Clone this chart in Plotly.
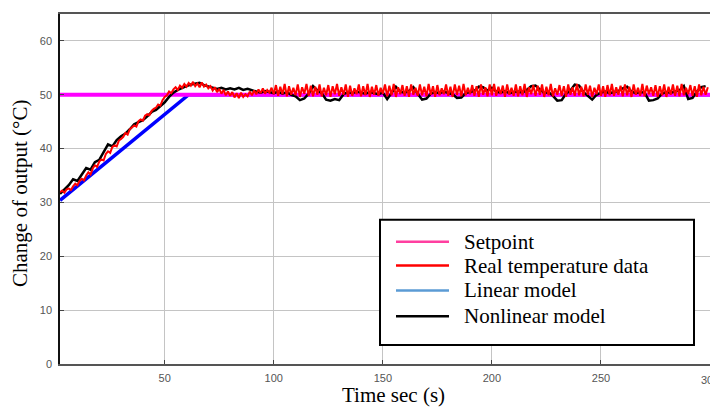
import plotly.graph_objects as go

# ---------------- data ----------------
time_real = list(range(2, 300))          # 1 s sampling, t = 2..299
real_temp = [
    31.9, 32.2, 31.8, 32.4, 32.6, 32.3, 33.0, 33.5, 33.2,
    34.0, 34.4, 34.1, 35.0, 35.6, 35.2, 36.3, 36.9, 36.6, 37.6,
    38.0, 37.8, 39.0, 39.5, 39.2, 40.3, 40.6, 40.4, 41.5, 41.8,
    42.2, 42.9, 42.6, 43.6, 43.9, 44.3, 44.1, 45.1, 45.4, 45.2,
    46.1, 46.4, 46.2, 47.0, 47.4, 47.6, 48.2, 48.0, 49.0, 49.6,
    49.9, 50.6, 50.3, 51.0, 51.4, 50.9, 51.7, 51.3, 52.0, 51.5,
    52.2, 51.7, 52.4, 51.6, 52.1, 51.4, 52.3, 51.5, 51.9, 51.2,
    51.6, 50.8, 51.4, 50.5, 51.1, 50.2, 50.9, 49.9, 50.6, 49.8,
    50.5, 49.5, 50.3, 49.4, 50.4, 49.6, 50.1, 49.7, 50.6, 49.9,
    50.8, 50.1, 51.0, 50.3, 51.2, 50.2, 50.9, 50.4, 51.3, 50.1,
    51.8, 49.8, 51.5, 50.1, 52.0, 49.7, 51.6, 50.0, 51.3, 49.9,
    51.9, 49.6, 51.4, 50.2, 52.0, 49.8, 51.7, 49.7, 51.5, 50.0,
    51.9, 49.7, 51.3, 49.9, 51.8, 49.6, 51.6, 50.1, 52.0, 49.8,
    51.4, 50.0, 51.9, 49.6, 51.7, 49.8, 51.2, 50.1, 51.9, 49.7,
    51.6, 49.9, 52.0, 49.6, 51.5, 50.0, 51.8, 49.8, 51.3, 50.2,
    51.9, 49.7, 51.7, 49.9, 52.0, 49.6, 51.4, 50.1, 51.8, 49.8,
    51.6, 49.6, 51.9, 50.0, 51.3, 49.8, 51.9, 49.9, 51.5, 49.7,
    52.0, 50.0, 51.6, 49.6, 51.8, 49.9, 51.2, 50.1, 51.9, 49.8,
    51.5, 49.6, 51.9, 50.0, 51.7, 49.7, 52.0, 49.9, 51.3, 50.1,
    51.8, 49.8, 51.6, 49.6, 51.9, 50.0, 51.4, 49.7, 51.9, 49.9,
    52.0, 49.8, 51.5, 50.1, 51.7, 49.6, 51.9, 50.0, 51.3, 49.8,
    51.9, 49.7, 51.6, 49.9, 52.0, 49.6, 51.4, 50.1, 51.8, 49.8,
    51.7, 50.0, 51.9, 49.6, 51.5, 49.9, 52.0, 49.7, 51.2, 50.0,
    51.8, 49.8, 51.6, 49.6, 51.9, 50.0, 51.4, 49.8, 52.0, 49.9,
    51.5, 49.7, 51.9, 50.0, 51.7, 49.6, 51.3, 50.1, 51.9, 49.8,
    51.6, 49.6, 51.8, 49.9, 52.0, 49.8, 51.4, 50.0, 51.7, 49.7,
    51.9, 49.9, 51.5, 49.6, 51.9, 50.0, 51.3, 49.8, 52.0, 49.7,
    51.7, 50.1, 51.4, 49.8, 51.8, 49.6, 51.6, 49.9, 51.9, 49.6,
    51.5, 50.0, 51.9, 49.8, 51.7, 49.7, 52.0, 49.9, 51.3, 50.1,
    51.8, 49.8, 51.6, 49.6, 51.9, 49.9, 51.5, 50.0, 51.4,
]

time_nonlin = list(range(2, 300, 2))     # 2 s sampling, t = 2..298
nonlinear_model = [
    31.6, 32.4, 33.2, 34.3, 34.0,
    35.2, 36.4, 36.1, 37.5, 37.9,
    39.4, 40.8, 40.4, 41.6, 42.3,
    42.8, 43.6, 44.5, 44.9, 45.3,
    46.0, 46.8, 47.2, 47.9, 48.6,
    49.6, 50.4, 50.9, 51.3, 51.6,
    51.9, 52.0, 52.2, 51.8, 51.6,
    51.4, 51.1, 51.3, 51.0, 51.2,
    51.0, 51.3, 50.9, 51.1, 50.8,
    50.6, 50.4, 50.7, 50.5, 50.3,
    50.6, 50.2, 50.5, 50.0, 49.7,
    49.0, 49.3, 50.2, 51.6, 50.8,
    50.3, 49.1, 48.9, 49.2, 49.0,
    50.1, 50.5, 50.3, 50.6, 50.4,
    50.2, 50.5, 50.3, 50.1, 50.4,
    49.2, 50.3, 51.5, 50.6, 50.4,
    50.7, 51.4, 50.2, 49.1, 49.3,
    50.2, 50.5, 50.3, 50.6, 50.4,
    50.1, 49.4, 49.5, 50.3, 50.5,
    50.7, 51.5, 51.4, 50.8, 51.3,
    50.6, 50.4, 50.7, 50.3, 50.5,
    50.6, 50.4, 50.9, 51.6, 51.7,
    51.0, 50.3, 50.5, 49.8, 48.9,
    49.0, 50.2, 50.8, 51.9, 51.7,
    50.5, 49.8, 49.1, 50.0, 50.4,
    50.6, 50.3, 50.5, 50.7, 51.2,
    51.5, 50.6, 50.3, 50.5, 50.4,
    48.9, 49.0, 49.3, 50.2, 50.5,
    50.4, 50.6, 50.8, 51.6, 49.2,
    49.4, 50.6, 51.4, 51.6,
]

time_linear = [2, 61, 300]
linear_model = [30.4, 50.0, 50.0]

time_setpoint = [2, 300]
setpoint = [50, 50]

x_ticks = [50, 100, 150, 200, 250, 300]
y_ticks = [0, 10, 20, 30, 40, 50, 60]

legend_names = ["Setpoint", "Real temperature data", "Linear model", "Nonlinear model"]
legend_colors = ["#ff3fa0", "#ff0000", "#5b9bd5", "#000000"]

# ---------------- figure ----------------
fig = go.Figure()
fig.add_trace(go.Scatter(x=time_linear, y=linear_model, mode="lines",
                         line=dict(color="#0000ff", width=3.5), name="Linear model",
                         showlegend=False))
fig.add_trace(go.Scatter(x=time_setpoint, y=setpoint, mode="lines",
                         line=dict(color="#ff00ff", width=4), name="Setpoint",
                         showlegend=False))
fig.add_trace(go.Scatter(x=time_nonlin, y=nonlinear_model, mode="lines",
                         line=dict(color="#000000", width=2.5), name="Nonlinear model",
                         showlegend=False))
fig.add_trace(go.Scatter(x=time_real, y=real_temp, mode="lines",
                         line=dict(color="#ff0000", width=2), name="Real temperature data",
                         showlegend=False))

# page body adds an 8 px offset; work in reference-window pixels and shift
OFF = 8
W, H = 718 - OFF, 407 - OFF
L, R, T, B = 60 - OFF, 8, 12 - OFF, 43
pw, ph = W - L - R, H - T - B

def px(x):
    return (x - OFF - L) / pw

def py(y):
    return (H - B - (y - OFF)) / ph

serif = "Liberation Serif"
tick_font = dict(family="Liberation Sans", size=11, color="#555")

shapes = [dict(type="rect", xref="paper", yref="paper",
               x0=px(380), x1=px(694), y0=py(345), y1=py(219),
               line=dict(color="black", width=2), fillcolor="white", layer="above")]
annotations = []
rows = [241, 265, 290, 316]
for name, col, ry in zip(legend_names, legend_colors, rows):
    shapes.append(dict(type="line", xref="paper", yref="paper",
                       x0=px(396), x1=px(449), y0=py(ry), y1=py(ry),
                       line=dict(color=col, width=2.5), layer="above"))
    annotations.append(dict(xref="paper", yref="paper", x=px(462), y=py(ry),
                            text=name, showarrow=False, xanchor="left", yanchor="middle",
                            font=dict(family=serif, size=21, color="black")))

annotations.append(dict(xref="paper", yref="paper", x=px(393), y=py(395),
                        text="Time sec (s)", showarrow=False, xanchor="center",
                        yanchor="middle",
                        font=dict(family=serif, size=21, color="black")))
annotations.append(dict(xref="paper", yref="paper", x=px(20), y=py(193),
                        text="Change of output (°C)", showarrow=False, textangle=-90,
                        xanchor="center", yanchor="middle",
                        font=dict(family=serif, size=21, color="black")))
# last x tick label (partly cut at the window edge, as in the reference)
annotations.append(dict(xref="x", yref="paper", x=x_ticks[-1], y=py(380),
                        text=str(x_ticks[-1]), showarrow=False, xanchor="center",
                        yanchor="middle", font=tick_font))

axis_common = dict(showgrid=True, gridcolor="#c4c4c4", gridwidth=1,
                   zeroline=False, ticks="inside", ticklen=4, tickcolor="#444",
                   showline=True, mirror=True, linewidth=1.5, tickfont=tick_font)

fig.update_layout(
    width=W, height=H,
    margin=dict(l=L, r=R, t=T, b=B),
    paper_bgcolor="white", plot_bgcolor="white",
    showlegend=False,
    xaxis=dict(range=[2, 300], tickvals=x_ticks, linecolor="#555",
               ticklabelstandoff=3, **axis_common),
    yaxis=dict(range=[0, 65], tickvals=y_ticks, linecolor="#111",
               ticklabelstandoff=4, **axis_common),
    shapes=shapes,
    annotations=annotations,
)

fig.write_html("out.html")
